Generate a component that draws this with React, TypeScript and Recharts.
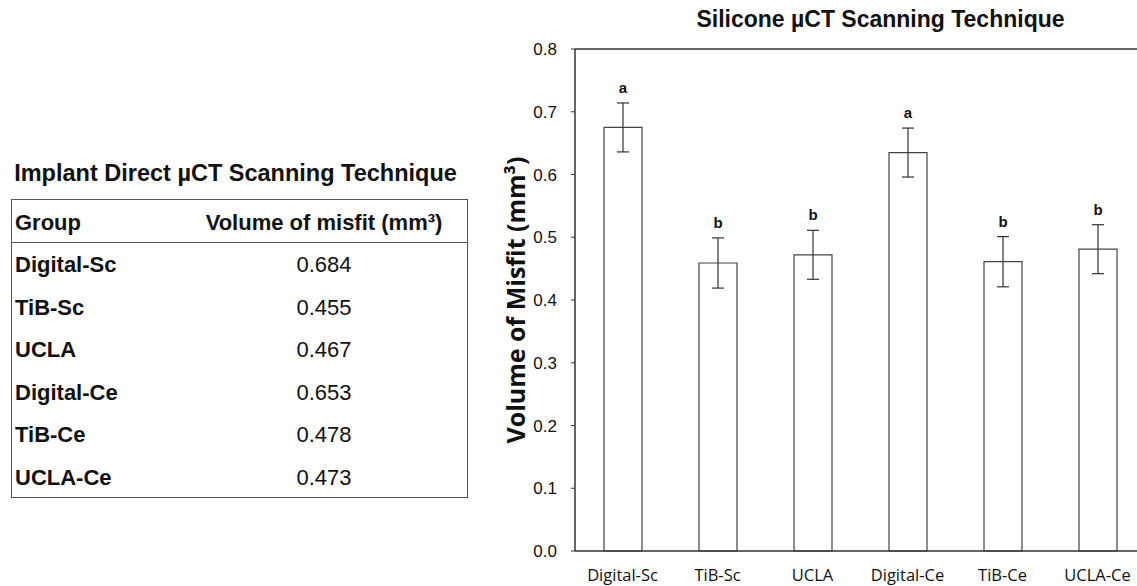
import React from "react";
import {
  BarChart,
  Bar,
  XAxis,
  YAxis,
  ErrorBar,
  LabelList,
  ReferenceLine,
} from "recharts";

const groups = ["Digital-Sc", "TiB-Sc", "UCLA", "Digital-Ce", "TiB-Ce", "UCLA-Ce"];
const tableValues = ["0.684", "0.455", "0.467", "0.653", "0.478", "0.473"];
const barMeans = [0.675, 0.459, 0.472, 0.635, 0.461, 0.481];
const barErrors = [0.039, 0.04, 0.039, 0.039, 0.04, 0.039];
const letters = ["a", "b", "b", "a", "b", "b"];
const yTicks = [0, 0.1, 0.2, 0.3, 0.4, 0.5, 0.6, 0.7, 0.8];

const data = groups.map((g, i) => ({
  name: g,
  value: barMeans[i],
  err: barErrors[i],
  letter: letters[i],
}));

const tableFont = "'Liberation Sans', Arial, Helvetica, sans-serif";

const LetterLabel = (props: any) => {
  const { x, y, width, height, index } = props;
  const d = data[index];
  if (!d) return null;
  const pxPerUnit = height / d.value;
  const top = y - d.err * pxPerUnit;
  return (
    <text
      x={x + width / 2}
      y={top - 10}
      textAnchor="middle"
      fontFamily={tableFont}
      fontWeight="bold"
      fontSize={15}
      fill="#111"
    >
      {d.letter}
    </text>
  );
};

export default function App() {
  return (
    <div
      style={{
        position: "fixed",
        left: 0,
        top: 0,
        width: 1137,
        height: 586,
        overflow: "hidden",
        background: "#fff",
      }}
    >
      {/* Table title */}
      <div
        style={{
          position: "absolute",
          left: 0,
          top: 160,
          width: 471,
          textAlign: "center",
          fontFamily: tableFont,
          fontWeight: "bold",
          fontSize: 23.5,
          lineHeight: "27px",
          color: "#111",
          whiteSpace: "nowrap",
        }}
      >
        Implant Direct µCT Scanning Technique
      </div>
      {/* Table */}
      <div
        style={{
          position: "absolute",
          left: 11,
          top: 199,
          width: 455,
          height: 297,
          border: "1.5px solid #555",
          fontFamily: tableFont,
          color: "#111",
          fontSize: 22,
          lineHeight: "25px",
        }}
      >
        <div
          style={{
            height: 42,
            borderBottom: "1.5px solid #555",
            position: "relative",
            fontWeight: "bold",
          }}
        >
          <div style={{ position: "absolute", left: 3, top: 10 }}>Group</div>
          <div
            style={{
              position: "absolute",
              left: 172,
              width: 280,
              top: 10,
              textAlign: "center",
              whiteSpace: "nowrap",
            }}
          >
            Volume of misfit (mm³)
          </div>
        </div>
        {groups.map((g, i) => (
          <div key={g} style={{ height: 42.6, position: "relative" }}>
            <div style={{ position: "absolute", left: 3, top: 9, fontWeight: "bold" }}>{g}</div>
            <div style={{ position: "absolute", left: 172, width: 280, top: 9, textAlign: "center" }}>
              {tableValues[i]}
            </div>
          </div>
        ))}
      </div>

      {/* Chart title */}
      <div
        style={{
          position: "absolute",
          left: 575,
          top: 6,
          width: 611,
          textAlign: "center",
          fontFamily: tableFont,
          fontWeight: "bold",
          fontSize: 23,
          lineHeight: "26px",
          color: "#111",
          whiteSpace: "nowrap",
        }}
      >
        Silicone µCT Scanning Technique
      </div>

      {/* Chart */}
      <div style={{ position: "absolute", left: 480, top: 0 }}>
        <BarChart
          width={665}
          height={586}
          data={data}
          margin={{ top: 49, right: 0, bottom: 0, left: 0 }}
          barCategoryGap={0}
        >
          <XAxis
            dataKey="name"
            height={35}
            tickLine={false}
            axisLine={{ stroke: "#333", strokeWidth: 1.5 }}
            tickMargin={12}
            tick={{ fill: "#111", fontSize: 16.5, fontFamily: "'Open Sans', sans-serif" }}
            interval={0}
          />
          <YAxis
            width={95}
            domain={[0, 0.8]}
            ticks={yTicks}
            tickFormatter={(v: number) => v.toFixed(1)}
            axisLine={{ stroke: "#333", strokeWidth: 1.5 }}
            tickLine={{ stroke: "#333" }}
            tickSize={4}
            tickMargin={14}
            tick={{ fill: "#111", fontSize: 17, fontFamily: tableFont }}
            label={{
              value: "Volume of Misfit (mm³)",
              angle: -90,
              position: "insideLeft",
              offset: 36,
              style: {
                textAnchor: "middle",
                fontFamily: "'Open Sans', sans-serif",
                fontWeight: "bold",
                fontSize: 25,
                fill: "#111",
              },
            }}
          />
          <ReferenceLine y={0.8} stroke="#333" strokeWidth={1.5} ifOverflow="visible" />
          <Bar
            dataKey="value"
            fill="#fff"
            stroke="#444"
            strokeWidth={1.2}
            barSize={38}
            isAnimationActive={false}
          >
            <ErrorBar dataKey="err" width={6} stroke="#333" strokeWidth={1.2} direction="y" />
            <LabelList dataKey="letter" content={LetterLabel} />
          </Bar>
        </BarChart>
      </div>
    </div>
  );
}
